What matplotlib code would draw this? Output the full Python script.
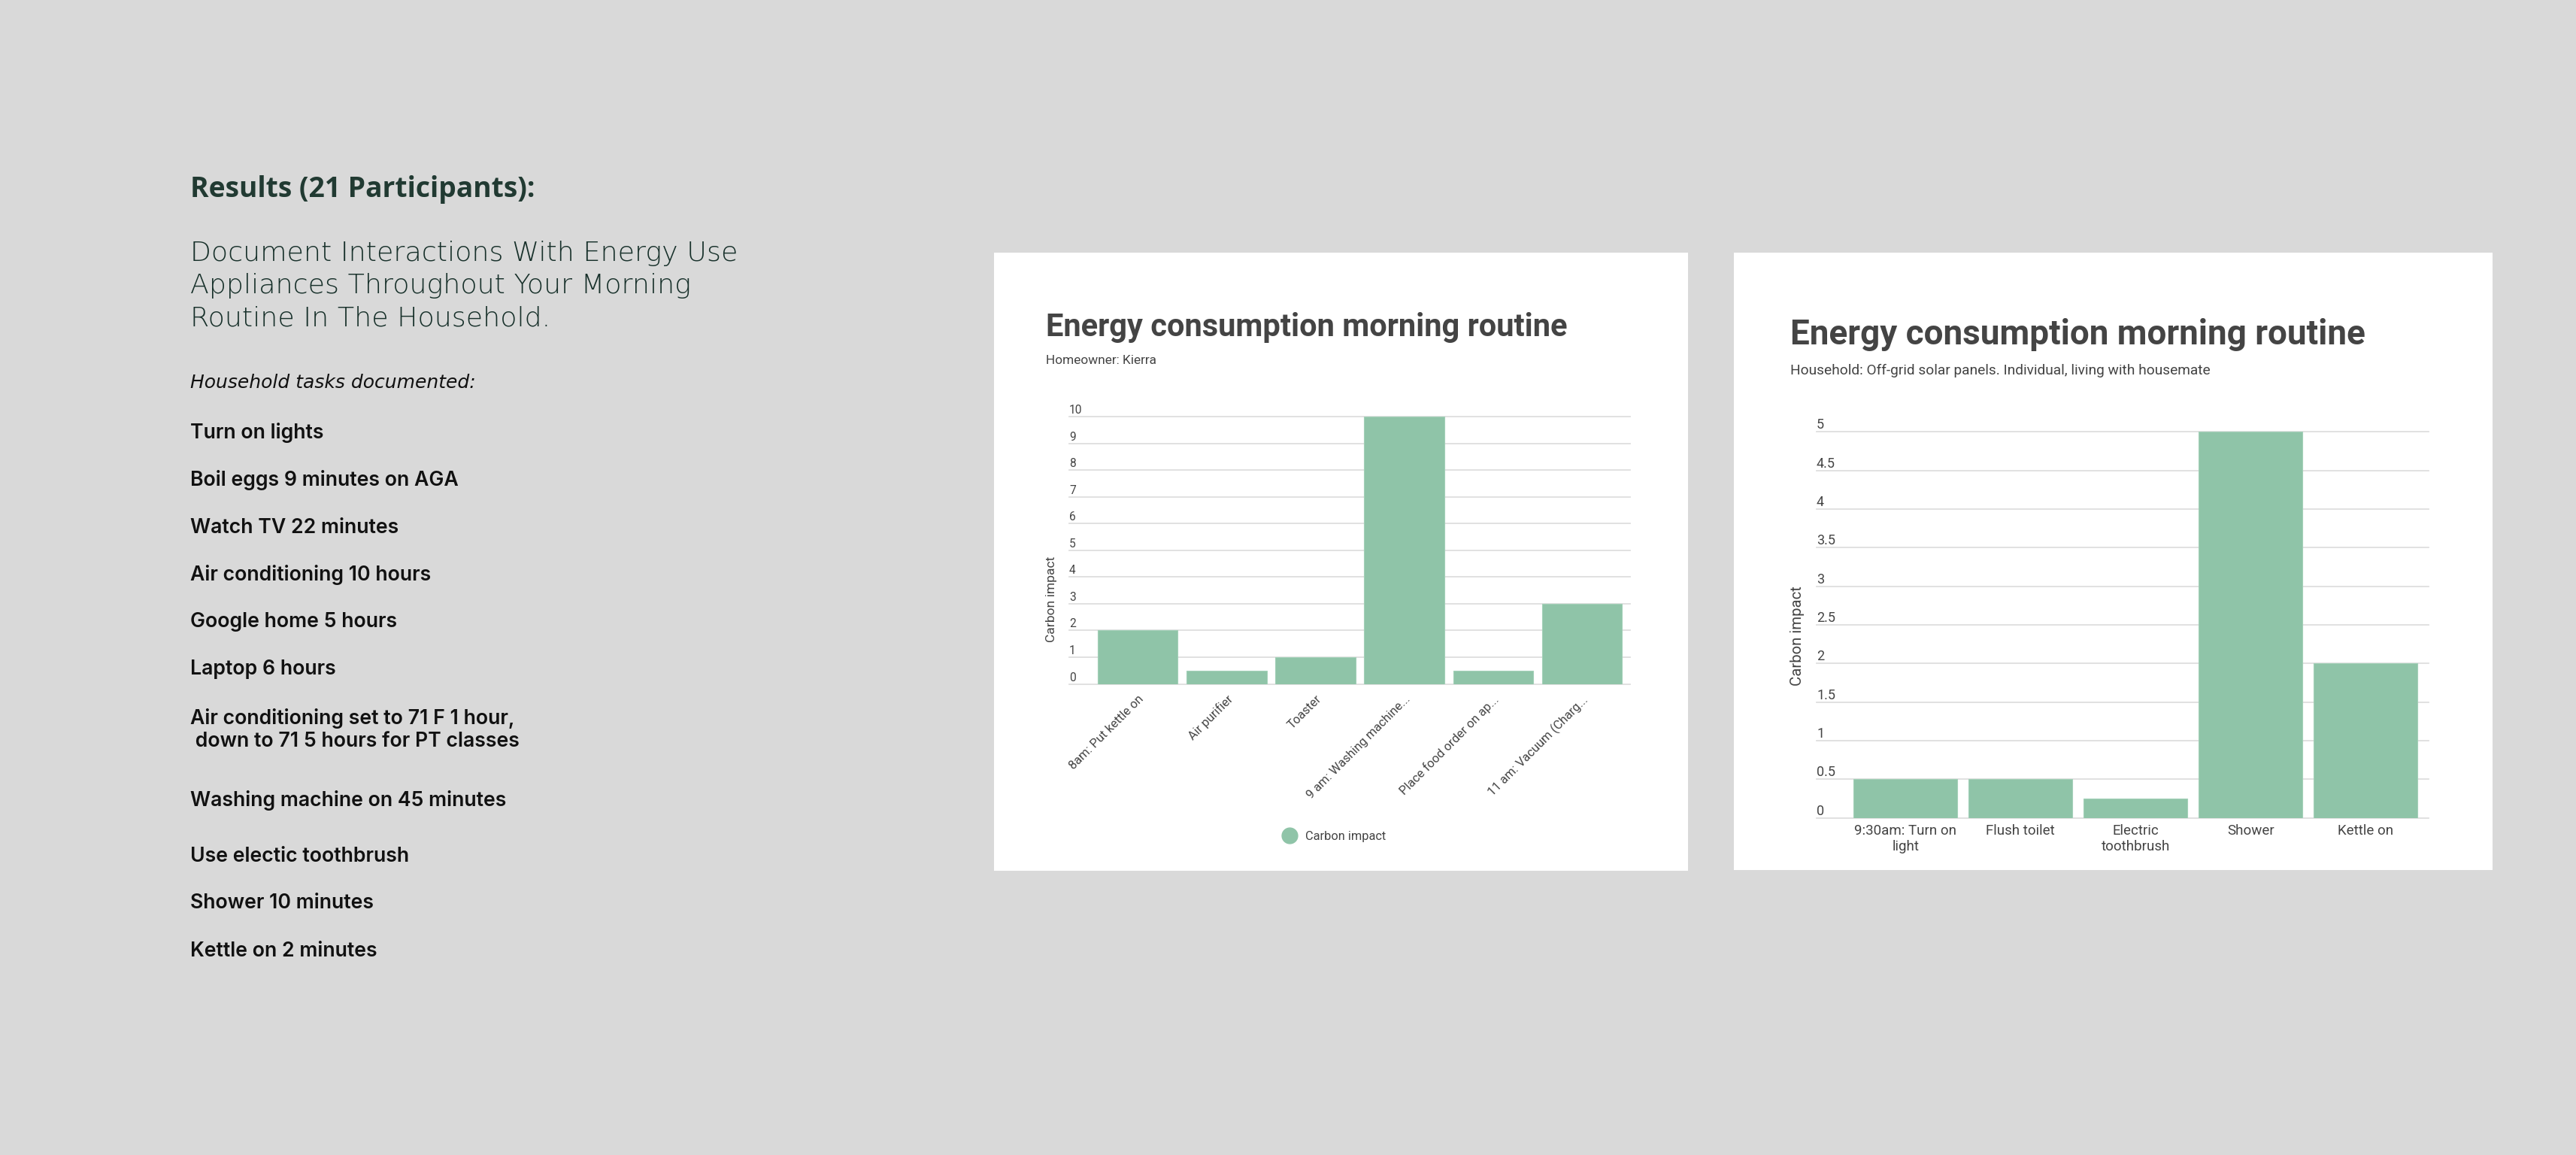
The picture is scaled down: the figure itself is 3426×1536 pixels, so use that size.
import matplotlib
matplotlib.use("Agg")
import matplotlib.pyplot as plt
from matplotlib.patches import Rectangle
from matplotlib.lines import Line2D
import matplotlib.transforms as mtransforms

# ── Data ──────────────────────────────────────────────────────────────────────
heading = "Results (21 Participants):"
intro_lines = ["Document Interactions With Energy Use",
               "Appliances Throughout Your Morning",
               "Routine In The Household."]
tasks_caption = "Household tasks documented:"
tasks = ["Turn on lights", "Boil eggs 9 minutes on AGA", "Watch TV 22 minutes",
         "Air conditioning 10 hours", "Google home 5 hours", "Laptop 6 hours",
         "Air conditioning set to 71 F 1 hour,\n down to 71 5 hours for PT classes",
         "Washing machine on 45 minutes", "Use electic toothbrush",
         "Shower 10 minutes", "Kettle on 2 minutes"]

kierra_title = "Energy consumption morning routine"
kierra_sub = "Homeowner: Kierra"
kierra_tasks = ["8am: Put kettle on", "Air purifier", "Toaster",
                "9 am: Washing machine...", "Place food order on ap...",
                "11 am: Vacuum (Charg..."]
kierra_impact = [2, 0.5, 1, 10, 0.5, 3]
kierra_ticks = list(range(0, 11))

solar_title = "Energy consumption morning routine"
solar_sub = "Household: Off-grid solar panels. Individual, living with housemate"
solar_tasks = ["9:30am: Turn on\nlight", "Flush toilet", "Electric\ntoothbrush",
               "Shower", "Kettle on"]
solar_impact = [0.5, 0.5, 0.25, 5, 2]
solar_ticks = [0, 0.5, 1, 1.5, 2, 2.5, 3, 3.5, 4, 4.5, 5]
solar_ticklabels = ["0", "0.5", "1", "1.5", "2", "2.5", "3", "3.5", "4", "4.5", "5"]

# ── Style ─────────────────────────────────────────────────────────────────────
W, H = 3426, 1536
BG = "#d9d9d9"
BAR = "#8fc4a8"
INK = "#444444"
GRID = "#dedede"
GREEN_DARK = "#213a32"

def fx(px):
    return px / W

def fy(py):
    return 1 - py / H

fig = plt.figure(figsize=(W / 100, H / 100), dpi=100, facecolor=BG)

# ── Left text block ───────────────────────────────────────────────────────────
fig.text(fx(253), fy(262), heading, family="Open Sans", weight="bold",
         fontsize=26.8, color=GREEN_DARK, va="baseline")
for i, line in enumerate(intro_lines):
    fig.text(fx(253), fy(347 + 43.3 * i), line, family="DejaVu Sans",
             weight="light", fontsize=26.2, color="#17302a", va="baseline")
fig.text(fx(253), fy(516), tasks_caption, family="DejaVu Sans", style="oblique",
         fontsize=18, color="#111111", va="baseline")

# baseline of the last line of each item (multi-line text aligns on it)
task_baselines = [583, 646, 709, 772, 834, 897, 993, 1072, 1146, 1208, 1272]
for base, t in zip(task_baselines, tasks):
    fig.text(fx(253), fy(base), t, family="Inter", weight="semibold",
             fontsize=19.2, color="#111111", va="baseline", linespacing=1.2)

# ── Chart panels ──────────────────────────────────────────────────────────────
for x0, y0, x1, y1 in [(1322, 336, 2245, 1158), (2306, 336, 3315, 1157)]:
    fig.patches.append(Rectangle((fx(x0), fy(y1)), fx(x1) - fx(x0), fy(y0) - fy(y1),
                                 transform=fig.transFigure, facecolor="white",
                                 edgecolor="none", zorder=-5))


def bar_chart(ax, cats, vals, ticks, ticklabels, xlim, tick_fs):
    x = range(len(cats))
    ax.bar(x, vals, width=0.9, color=BAR, edgecolor="#a3d0b8", linewidth=0.8, zorder=3)
    ax.set_xlim(*xlim)
    ax.set_ylim(ticks[0], ticks[-1])
    ax.set_facecolor("white")
    for s in ax.spines.values():
        s.set_visible(False)
    ax.set_yticks(ticks)
    ax.set_yticklabels([])
    ax.tick_params(axis="y", length=0)
    ax.tick_params(axis="x", length=0)
    for v in ticks:
        ax.axhline(v, color=GRID, lw=1.3, zorder=1, clip_on=False)
    off = mtransforms.offset_copy(ax.get_yaxis_transform(), fig=fig, x=0, y=4, units="dots")
    for v, lab in zip(ticks, ticklabels):
        ax.text(0, v, lab, transform=off, ha="left", va="baseline",
                family="Roboto", fontsize=tick_fs, color=INK, clip_on=False)
    ax.set_xticks(list(x))


# Left chart
ax1 = fig.add_axes([fx(1422), fy(909.5), fx(2168) - fx(1422), fy(554) - fy(909.5)])
bar_chart(ax1, kierra_tasks, kierra_impact, kierra_ticks,
          [str(t) for t in kierra_ticks], (-0.773, 5.544), 11.2)
ax1.set_xticklabels(kierra_tasks, rotation=45, ha="right", va="top",
                    rotation_mode="anchor", family="Roboto", fontsize=11.8, color=INK)
ax1.tick_params(axis="x", pad=9)
fig.text(fx(1391), fy(447), kierra_title, family="Roboto", weight="bold",
         fontsize=30, color=INK, va="baseline")
fig.text(fx(1391), fy(484), kierra_sub, family="Roboto", fontsize=12.4,
         color=INK, va="baseline")
fig.text(fx(1399), fy(797), "Carbon impact", family="Roboto", fontsize=12.6,
         color=INK, rotation=90, ha="center", va="center")
leg = fig.legend(handles=[Line2D([], [], marker="o", linestyle="", color=BAR,
                                 markersize=15)],
                 labels=["Carbon impact"], loc="center",
                 bbox_to_anchor=(fx(1771), fy(1112)), frameon=False,
                 handletextpad=0.3, prop={"family": "Roboto", "size": 11.8})
for t in leg.get_texts():
    t.set_color(INK)

# Right chart
ax2 = fig.add_axes([fx(2416), fy(1087.7), fx(3230) - fx(2416), fy(574.3) - fy(1087.7)])
bar_chart(ax2, solar_tasks, solar_impact, solar_ticks, solar_ticklabels,
          (-0.773, 4.548), 13)
ax2.set_xticklabels(solar_tasks, ha="center", va="top", family="Roboto",
                    fontsize=13.5, color=INK, linespacing=1.2)
ax2.tick_params(axis="x", pad=6)
fig.text(fx(2381), fy(458.3), solar_title, family="Roboto", weight="bold",
         fontsize=33, color=INK, va="baseline")
fig.text(fx(2381), fy(497.7), solar_sub, family="Roboto", fontsize=13.8,
         color=INK, va="baseline")
fig.text(fx(2390), fy(846), "Carbon impact", family="Roboto", fontsize=14.7,
         color=INK, rotation=90, ha="center", va="center")

fig.savefig("out.png", dpi=100, facecolor=BG)
